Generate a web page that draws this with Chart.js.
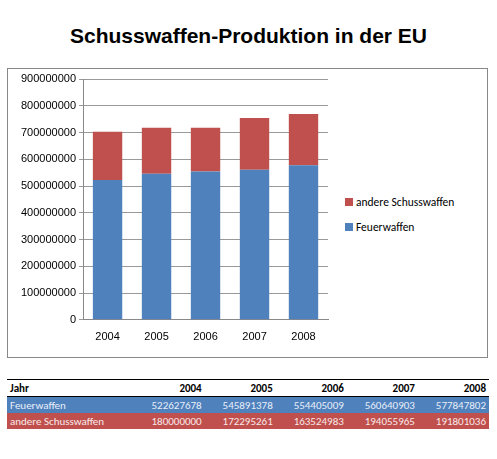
<!DOCTYPE html>
<html lang="de">
<head>
  <meta charset="UTF-8" />
  <title>Schusswaffen-Produktion in der EU</title>
  <style>
    body { margin: 0; background: #fff; font-family: "Liberation Sans", Arial, sans-serif; }
    h1 { position: absolute; left: 0; width: 497px; top: 24px; margin: 0; text-align: center; font-size: 21px; font-weight: bold; color: #000; }
    #box { position: absolute; left: 7px; top: 68px; width: 479px; height: 288px; border: 1px solid #888; }
    #cw { position: absolute; left: 0; top: 0; width: 328px; height: 288px; }
    .lg { position: absolute; left: 337px; font-family: Carlito, Calibri, "Liberation Sans", sans-serif; font-size: 11.5px; color: #000; }
    .lg span { display: inline-block; width: 8px; height: 8px; margin-right: 3px; }
    table { position: absolute; left: 7px; top: 379px; width: 482px; border-collapse: collapse; font-family: Carlito, Calibri, "Liberation Sans", sans-serif; font-size: 11px; }
    th, td { padding: 1px 3px; text-align: right; height: 14px; }
    th { font-weight: bold; border-top: 1px solid #000; border-bottom: 1px solid #000; }
    th:first-child, td:first-child { text-align: left; }
    tr.f td { background: #4f81bd; color: #e8eef8; }
    tr.a td { background: #c0504d; color: #f8e8e8; }
  </style>
</head>
<body>
  <h1>Schusswaffen-Produktion in der EU</h1>
  <div id="box">
    <div id="cw"><canvas id="c"></canvas></div>
    <div class="lg" style="top:126px"><span style="background:#c0504d"></span>andere Schusswaffen</div>
    <div class="lg" style="top:151px"><span style="background:#4f81bd"></span>Feuerwaffen</div>
  </div>
  <table id="tbl"></table>

  <script src="https://cdn.jsdelivr.net/npm/chart.js"></script>
  <script>
    const years = ['2004', '2005', '2006', '2007', '2008'];
    const feuerwaffen = [522627678, 545891378, 554405009, 560640903, 577847802];
    const andere = [180000000, 172295261, 163524983, 194055965, 191801036];

    // table below the chart
    const tbl = document.getElementById('tbl');
    let html = '<tr><th>Jahr</th>' + years.map(y => '<th>' + y + '</th>').join('') + '</tr>';
    html += '<tr class="f"><td>Feuerwaffen</td>' + feuerwaffen.map(v => '<td>' + v + '</td>').join('') + '</tr>';
    html += '<tr class="a"><td>andere Schusswaffen</td>' + andere.map(v => '<td>' + v + '</td>').join('') + '</tr>';
    tbl.innerHTML = html;

    new Chart(document.getElementById('c'), {
      type: 'bar',
      data: {
        labels: years,
        datasets: [
          { label: 'Feuerwaffen', data: feuerwaffen, backgroundColor: '#4f81bd', categoryPercentage: 0.6, barPercentage: 1 },
          { label: 'andere Schusswaffen', data: andere, backgroundColor: '#c0504d', categoryPercentage: 0.6, barPercentage: 1 }
        ]
      },
      options: {
        responsive: true,
        maintainAspectRatio: false,
        animation: false,
        layout: { padding: { top: 10, left: 10, right: 8, bottom: 10 } },
        plugins: {
          legend: { display: false },
          tooltip: { enabled: false }
        },
        scales: {
          x: {
            stacked: true,
            grid: { display: false },
            border: { color: '#888' },
            ticks: { color: '#000', font: { size: 11 } }
          },
          y: {
            stacked: true,
            min: 0, max: 900000000,
            ticks: { stepSize: 100000000, color: '#000', font: { size: 11 }, callback: v => String(v) },
            grid: { color: '#999', drawTicks: true, tickLength: 4 },
            border: { color: '#888' }
          }
        }
      }
    });
  </script>
</body>
</html>
